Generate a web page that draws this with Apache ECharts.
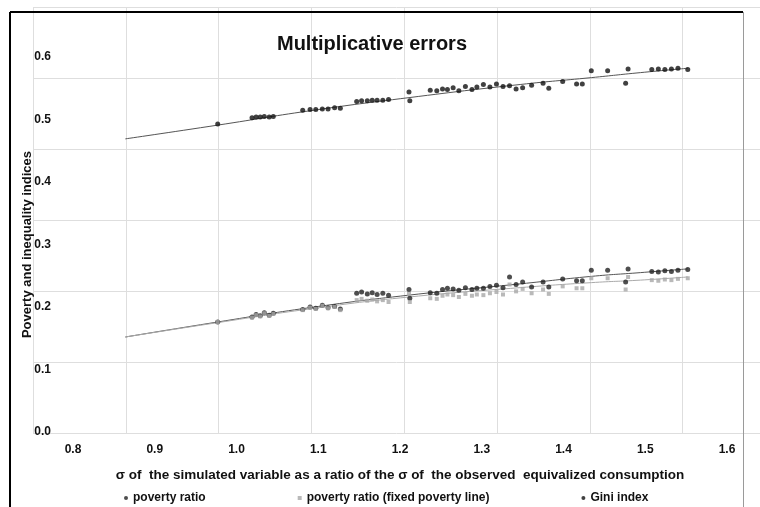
<!DOCTYPE html>
<html>
<head>
    <meta charset="UTF-8">
    <title>Multiplicative errors</title>
    <script src="https://cdn.jsdelivr.net/npm/echarts@6/dist/echarts.min.js"></script>
    <style>
        *{margin:0;padding:0}
        html,body{width:100%;height:100%;background:#fff}
        #main{width:760px;height:507px}
    </style>
</head>
<body>
    <div id="main"></div>
    <script type="text/javascript">
        var FONT = '"Liberation Sans", sans-serif';

        // sigma of simulated variable / sigma of observed consumption (one per simulation)
        var sigmaRatio = [0.977,
            1.019, 1.024, 1.029, 1.034, 1.040, 1.045,
            1.081, 1.090, 1.097, 1.105, 1.112, 1.120, 1.127,
            1.147, 1.153, 1.160, 1.166, 1.172, 1.179, 1.186,
            1.211, 1.212,
            1.237, 1.245, 1.252, 1.258, 1.265, 1.272, 1.280, 1.288, 1.294,
            1.302, 1.310, 1.318, 1.326, 1.334, 1.342, 1.350,
            1.361, 1.375, 1.382, 1.399, 1.416, 1.423, 1.434, 1.454, 1.476, 1.479,
            1.508, 1.516, 1.524, 1.532, 1.540, 1.552];

        var povertyRatio = [0.176,
            0.184, 0.188, 0.186, 0.191, 0.187, 0.190,
            0.196, 0.200, 0.198, 0.203, 0.199, 0.201, 0.197,
            0.222, 0.224, 0.221, 0.223, 0.220, 0.222, 0.219,
            0.228, 0.214,
            0.223, 0.222, 0.228, 0.230, 0.229, 0.227, 0.231, 0.228, 0.230,
            0.230, 0.233, 0.235, 0.231, 0.248, 0.236, 0.240,
            0.232, 0.240, 0.232, 0.245, 0.242, 0.242, 0.259, 0.259, 0.240, 0.261,
            0.257, 0.256, 0.258, 0.257, 0.259, 0.260];

        var povertyFixed = [0.176,
            0.183, 0.187, 0.185, 0.190, 0.186, 0.189,
            0.195, 0.199, 0.197, 0.202, 0.198, 0.200, 0.195,
            0.211, 0.213, 0.210, 0.212, 0.209, 0.211, 0.208,
            0.221, 0.208,
            0.214, 0.213, 0.218, 0.220, 0.219, 0.216, 0.221, 0.218, 0.220,
            0.219, 0.222, 0.224, 0.220, 0.236, 0.225, 0.229,
            0.222, 0.228, 0.221, 0.233, 0.230, 0.230, 0.246, 0.246, 0.228, 0.248,
            0.243, 0.242, 0.244, 0.243, 0.245, 0.246];

        var gini = [0.493,
            0.503, 0.504, 0.504, 0.505, 0.504, 0.505,
            0.515, 0.516, 0.516, 0.517, 0.517, 0.519, 0.518,
            0.529, 0.530, 0.530, 0.531, 0.531, 0.531, 0.532,
            0.544, 0.530,
            0.547, 0.546, 0.549, 0.548, 0.551, 0.546, 0.553, 0.548, 0.552,
            0.556, 0.552, 0.557, 0.553, 0.554, 0.549, 0.551,
            0.555, 0.558, 0.550, 0.561, 0.557, 0.557, 0.578, 0.578, 0.558, 0.581,
            0.580, 0.581, 0.580, 0.581, 0.582, 0.580];

        // trend lines
        var trendX = [0.864, 0.977, 1.090, 1.211, 1.347, 1.434, 1.494, 1.552];
        var giniTrend = [0.469, 0.491, 0.514, 0.535, 0.556, 0.567, 0.575, 0.582];
        var povertyTrend = [0.152, 0.176, 0.199, 0.219, 0.237, 0.249, 0.255, 0.261];
        var fixedTrend = [0.152, 0.175, 0.197, 0.216, 0.231, 0.239, 0.243, 0.248];

        var xTicks = [0.8, 1.6, 0.1];
        var yTicks = [0, 0.6, 0.1];

        function pairs(xs, ys) {
            return xs.map(function (x, i) { return [x, ys[i]]; });
        }

        var myChart = echarts.init(document.getElementById('main'));
        var labelStyle = {color: '#111', fontWeight: 'bold', fontSize: 12, fontFamily: FONT};

        option = {
            backgroundColor: '#fff',
            animation: false,
            textStyle: {fontFamily: FONT},
            title: {
                text: 'Multiplicative errors',
                left: 367,
                top: 29,
                textAlign: 'center',
                textStyle: {fontSize: 20, fontWeight: 'bold', color: '#111', fontFamily: FONT}
            },
            legend: {
                data: [
                    {name: 'poverty ratio', icon: 'circle'},
                    {name: 'poverty ratio (fixed poverty line)', icon: 'rect'},
                    {name: 'Gini index', icon: 'circle'}
                ],
                left: 119,
                top: 487,
                itemWidth: 4,
                itemHeight: 4,
                itemGap: 92,
                textStyle: labelStyle
            },
            grid: [
                // data grid, matches the tick labels
                {left: 73, right: 33, top: 57, bottom: 75},
                // background grid lines of the plot area
                {left: 33, width: 727, top: 7, height: 426}
            ],
            xAxis: [{
                type: 'value', gridIndex: 0,
                min: xTicks[0], max: xTicks[1], interval: xTicks[2],
                name: 'σ of  the simulated variable as a ratio of the σ of  the observed  equivalized consumption',
                nameLocation: 'middle',
                nameGap: 36,
                nameMoveOverlap: false,
                nameTextStyle: {color: '#111', fontWeight: 'bold', fontSize: 13.5, fontFamily: FONT},
                axisLine: {show: false}, axisTick: {show: false}, splitLine: {show: false},
                axisLabel: Object.assign({margin: 12, formatter: function (v) { return v.toFixed(1); }}, labelStyle)
            }, {
                type: 'value', gridIndex: 1, min: 0, max: 7.834, interval: 1,
                axisLine: {show: false}, axisTick: {show: false}, axisLabel: {show: false},
                splitLine: {show: true, lineStyle: {color: '#dedede', width: 1}}
            }],
            yAxis: [{
                type: 'value', gridIndex: 0,
                min: yTicks[0], max: yTicks[1], interval: yTicks[2],
                name: 'Poverty and inequality indices',
                nameLocation: 'middle',
                nameGap: 39,
                nameMoveOverlap: false,
                nameTextStyle: {color: '#111', fontWeight: 'bold', fontSize: 13, fontFamily: FONT},
                axisLine: {show: false}, axisTick: {show: false}, splitLine: {show: false},
                axisLabel: Object.assign({margin: 22, formatter: function (v) { return v.toFixed(1); }}, labelStyle)
            }, {
                type: 'value', gridIndex: 1, min: 0, max: 6, interval: 1,
                axisLine: {show: false}, axisTick: {show: false}, axisLabel: {show: false},
                splitLine: {show: true, lineStyle: {color: '#dedede', width: 1}}
            }],
            graphic: [
                {type: 'line', shape: {x1: 10, y1: 12, x2: 743, y2: 12}, style: {stroke: '#000', lineWidth: 2}, z: 10},
                {type: 'line', shape: {x1: 10, y1: 12, x2: 10, y2: 507}, style: {stroke: '#000', lineWidth: 2}, z: 10},
                {type: 'line', shape: {x1: 743.5, y1: 12, x2: 743.5, y2: 507}, style: {stroke: '#9a9a9a', lineWidth: 1}, z: 10}
            ],
            series: [
                {
                    name: 'poverty trend', type: 'line', xAxisIndex: 0, yAxisIndex: 0,
                    data: pairs(trendX, povertyTrend), smooth: true, showSymbol: false, silent: true,
                    lineStyle: {color: '#555', width: 1}, z: 2
                },
                {
                    name: 'fixed trend', type: 'line', xAxisIndex: 0, yAxisIndex: 0,
                    data: pairs(trendX, fixedTrend), smooth: true, showSymbol: false, silent: true,
                    lineStyle: {color: '#aaa', width: 1}, z: 2
                },
                {
                    name: 'gini trend', type: 'line', xAxisIndex: 0, yAxisIndex: 0,
                    data: pairs(trendX, giniTrend), smooth: true, showSymbol: false, silent: true,
                    lineStyle: {color: '#555', width: 1}, z: 2
                },
                {
                    name: 'poverty ratio', type: 'scatter', xAxisIndex: 0, yAxisIndex: 0,
                    data: pairs(sigmaRatio, povertyRatio), symbol: 'circle', symbolSize: 5,
                    itemStyle: {color: '#222'}, z: 3
                },
                {
                    name: 'poverty ratio (fixed poverty line)', type: 'scatter', xAxisIndex: 0, yAxisIndex: 0,
                    data: pairs(sigmaRatio, povertyFixed), symbol: 'rect', symbolSize: 4,
                    itemStyle: {color: '#a8a8a8'}, z: 4
                },
                {
                    name: 'Gini index', type: 'scatter', xAxisIndex: 0, yAxisIndex: 0,
                    data: pairs(sigmaRatio, gini), symbol: 'circle', symbolSize: 5,
                    itemStyle: {color: '#111'}, z: 5
                }
            ]
        };
        myChart.setOption(option);
    </script>
</body>
</html>
